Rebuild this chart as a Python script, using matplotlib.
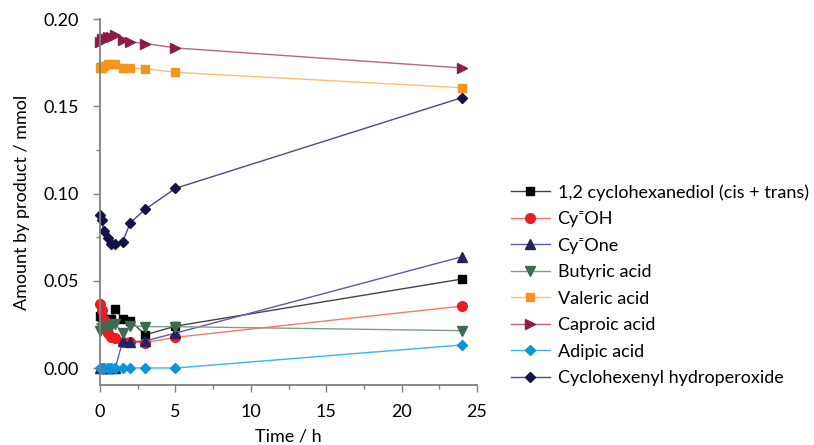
import numpy as np
import matplotlib.pyplot as plt
from matplotlib.ticker import MultipleLocator

plt.rcParams['font.family'] = ['Lato', 'DejaVu Sans']

time_h = [0, 0.1, 0.25, 0.5, 0.75, 1, 1.5, 2, 3, 5, 24]

diol = [0.030, 0.029, 0.027, 0.028, 0.028, 0.034, 0.028, 0.027, 0.019, 0.024, 0.051]
cy_oh = [0.0365, 0.033, 0.0275, 0.020, 0.018, 0.017, 0.015, 0.0148, 0.0146, 0.0176, 0.0355]
cy_one = [0, 0, 0, 0, 0, 0, 0.0155, 0.015, 0.0155, 0.020, 0.0638]
butyric = [0.021, 0.0227, 0.024, 0.0238, 0.0243, 0.0252, 0.020, 0.0243, 0.0237, 0.0237, 0.0214]
valeric = [0.172, 0.172, 0.173, 0.174, 0.174, 0.174, 0.172, 0.172, 0.1716, 0.1695, 0.1607]
caproic = [0.187, 0.1885, 0.189, 0.190, 0.190, 0.191, 0.188, 0.187, 0.186, 0.1835, 0.172]
adipic = [0, 0, 0, 0, 0, 0, 0, 0, 0, 0, 0.0132]
hydroperoxide = [0.0877, 0.0849, 0.0787, 0.0744, 0.0709, 0.0711, 0.0724, 0.0833, 0.091, 0.103, 0.155]

labels = ['1,2 cyclohexanediol (cis + trans)', 'Cy\u207cOH', 'Cy\u207cOne',
          'Butyric acid', 'Valeric acid', 'Caproic acid', 'Adipic acid',
          'Cyclohexenyl hydroperoxide']

fig = plt.figure(figsize=(8.14, 4.45), dpi=100)
ax = fig.add_axes([0.123, 0.135, 0.463, 0.822])

# (values, marker, marker colour, line colour, marker size)
series = [
    (diol, 's', '#000000', '#444444', 6),
    (cy_oh, 'o', '#ED1C24', '#F4796F', 7),
    (cy_one, '^', '#262262', '#5B5BA6', 7),
    (butyric, 'v', '#3E6B50', '#7E9E88', 7),
    (valeric, 's', '#F7941D', '#FDBE73', 6),
    (caproic, '>', '#8E1B4B', '#B5658A', 7),
    (adipic, 'D', '#0C95D9', '#3DB4EA', 5.5),
    (hydroperoxide, 'D', '#131348', '#4A4A86', 5.5),
]

for (vals, mk, mc, lc, ms), lab in zip(series, labels):
    ax.plot(time_h, vals, color=lc, lw=1.0, marker=mk, ms=ms,
            markerfacecolor=mc, markeredgecolor=mc, label=lab, clip_on=False)

ax.set_xlim(0, 25)
ax.set_ylim(-0.0097, 0.20)
ax.xaxis.set_major_locator(MultipleLocator(5))
ax.xaxis.set_minor_locator(MultipleLocator(2.5))
ax.yaxis.set_major_locator(MultipleLocator(0.05))
ax.yaxis.set_minor_locator(MultipleLocator(0.025))
ax.yaxis.set_major_formatter(plt.FormatStrFormatter('%.2f'))

for side in ['top', 'right']:
    ax.spines[side].set_visible(False)
for side in ['left', 'bottom']:
    ax.spines[side].set_color('#808080')
    ax.spines[side].set_linewidth(1.3)

ax.tick_params(which='both', direction='out', color='#808080', labelsize=13)
ax.tick_params(which='major', length=5, width=1)
ax.tick_params(which='minor', length=3, width=1)
ax.tick_params(axis='y', which='major', pad=10)
ax.tick_params(axis='x', which='major', pad=9)

ax.set_xlabel('Time / h', fontsize=13, labelpad=6)
ax.set_ylabel('Amount by product / mmol', fontsize=13, labelpad=10)

ax.legend(loc='center left', bbox_to_anchor=(1.07, 0.273), frameon=False,
          fontsize=13, handlelength=2.2, handletextpad=0.4,
          labelspacing=0.58, borderaxespad=0)

fig.savefig('out.png', dpi=100)
